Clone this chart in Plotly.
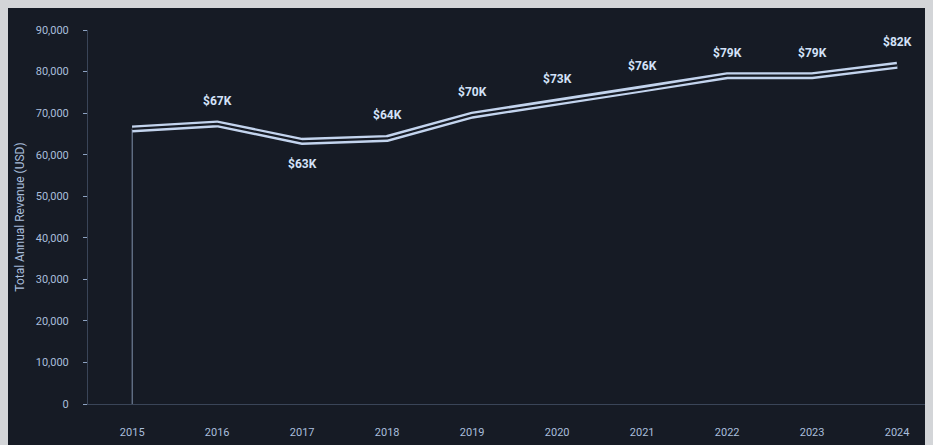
import plotly.graph_objects as go

years = ["2015", "2016", "2017", "2018", "2019", "2020", "2021", "2022", "2023", "2024"]
revenue = [66200, 67400, 63200, 63900, 69500, 72600, 75700, 79000, 79000, 81500]
labels = ["$66K", "$67K", "$63K", "$64K", "$70K", "$73K", "$76K", "$79K", "$79K", "$82K"]
y_ticks = [0, 10000, 20000, 30000, 40000, 50000, 60000, 70000, 80000, 90000]
y_tick_text = ["0", "10,000", "20,000", "30,000", "40,000", "50,000",
               "60,000", "70,000", "80,000", "90,000"]
# 1 = label above, -1 = below, 0 = no label
label_side = [0, 1, -1, 1, 1, 1, 1, 1, 1, 1]

bg = "#161b25"
line_col = "#c3d4ee"
text_col = "#a9bedc"

fig = go.Figure()

# wide light stroke, then a thin dark one on top -> double line look
fig.add_trace(go.Scatter(
    x=years, y=revenue, mode="lines",
    line=dict(color=line_col, width=7),
    hoverinfo="skip", showlegend=False
))
fig.add_trace(go.Scatter(
    x=years, y=revenue, mode="lines",
    line=dict(color=bg, width=2.2),
    text=labels, hoverinfo="x+text", showlegend=False
))

# left edge of the area (category index 0)
fig.add_shape(type="line", x0=0, x1=0, y0=0, y1=revenue[0],
              line=dict(color="#8193ad", width=1), layer="below")

for i, (y, t, s) in enumerate(zip(revenue, labels, label_side)):
    if s == 0:
        continue
    fig.add_annotation(x=i, y=y, text=f"<b>{t}</b>", showarrow=False,
                       yshift=23 * s,
                       font=dict(size=12, color="#d3e2f8", family="Roboto"))

fig.update_layout(
    width=935, height=445,
    margin=dict(l=80, r=0, t=22, b=49),
    paper_bgcolor=bg, plot_bgcolor=bg,
    font=dict(family="Roboto", size=11, color=text_col),
    xaxis=dict(
        type="category", range=[-0.52, 9.54],
        showgrid=False, zeroline=False,
        showline=True, linecolor="#3a4558", linewidth=1,
        ticks="", ticklabelstandoff=18,
        tickfont=dict(size=11, color=text_col),
    ),
    yaxis=dict(
        range=[0, 90000], tickvals=y_ticks, ticktext=y_tick_text,
        showgrid=False, zeroline=False,
        showline=True, linecolor="#3a4558", linewidth=1,
        ticks="outside", ticklen=4, tickcolor="#8ea3c2",
        ticklabelstandoff=12,
        title=dict(text="Total Annual Revenue (USD)", standoff=8,
                   font=dict(size=12, color=text_col)),
    ),
)

fig.write_html("out.html", post_script=(
    "document.body.style.overflow='hidden';"
    "document.body.style.background='#d3d5d8';"
))
